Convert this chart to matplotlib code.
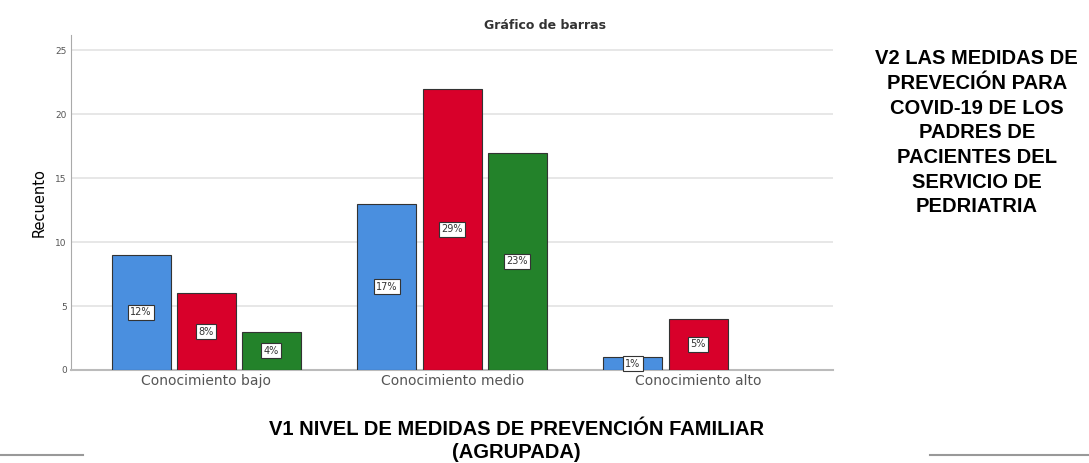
import numpy as np
import matplotlib.pyplot as plt
from matplotlib.lines import Line2D

categories = ['Conocimiento bajo', 'Conocimiento medio', 'Conocimiento alto']
blue_vals = [9, 13, 1]
red_vals = [6, 22, 4]
green_vals = [3, 17, 0]
blue_pct = ['12%', '17%', '1%']
red_pct = ['8%', '29%', '5%']
green_pct = ['4%', '23%', '']
yticks = [0, 5, 10, 15, 20, 25]

colors = ['#4a8fdf', '#d8002a', '#23822a']

fig = plt.figure(figsize=(10.89, 4.63), dpi=100)
ax = fig.add_axes([0.0652, 0.2009, 0.700, 0.7235])

x = np.arange(len(categories))
w = 0.24
step = 0.265
series = [(blue_vals, blue_pct), (red_vals, red_pct), (green_vals, green_pct)]
for i, (vals, pcts) in enumerate(series):
    pos = x + (i - 1) * step
    lws = [0.8 if v > 0 else 0 for v in vals]
    ax.bar(pos, vals, width=w, color=colors[i], edgecolor='#333333', linewidth=lws, zorder=3)
    for px, v, p in zip(pos, vals, pcts):
        if v > 0 and p:
            ax.text(px, v / 2, p, ha='center', va='center', fontsize=7, color='#333333',
                    zorder=4, bbox=dict(boxstyle='square,pad=0.25', fc='white', ec='#333333', lw=0.8))

ax.set_xlim(-0.55, 2.55)
ax.set_ylim(0, 26.2)
ax.set_yticks(yticks)
ax.set_yticklabels([str(t) for t in yticks], fontsize=6.5, color='#555555')
ax.set_xticks(x)
ax.set_xticklabels(categories, fontsize=10, color='#555555')
ax.tick_params(length=0, pad=3)
ax.yaxis.grid(True, color='#e3e3e3', lw=1.2, zorder=0)
for s in ['top', 'right']:
    ax.spines[s].set_visible(False)
ax.spines['left'].set_color('#aaaaaa')
ax.spines['bottom'].set_color('#bbbbbb')
ax.spines['bottom'].set_linewidth(1.5)

ax.set_ylabel('Recuento', fontsize=10.5, labelpad=6)

fig.text(0.5, 0.945, 'Gráfico de barras', ha='center', va='center', fontsize=9,
         fontweight='bold', color='#333333')

fig.text(0.897, 0.713, 'V2 LAS MEDIDAS DE\nPREVECIÓN PARA\nCOVID-19 DE LOS\nPADRES DE\nPACIENTES DEL\nSERVICIO DE\nPEDRIATRIA',
         ha='center', va='center', fontsize=14.5, fontweight='bold', family='Liberation Sans',
         linespacing=1.38)

fig.text(0.474, 0.0475, 'V1 NIVEL DE MEDIDAS DE PREVENCIÓN FAMILIAR\n(AGRUPADA)', ha='center', va='center',
         fontsize=14.5, fontweight='bold', family='Liberation Sans', linespacing=1.3)

fig.add_artist(Line2D([0, 0.076], [0.017, 0.017], color='#999999', lw=1.5))
fig.add_artist(Line2D([0.854, 1], [0.017, 0.017], color='#999999', lw=1.5))

fig.savefig('out.png', dpi=100)
